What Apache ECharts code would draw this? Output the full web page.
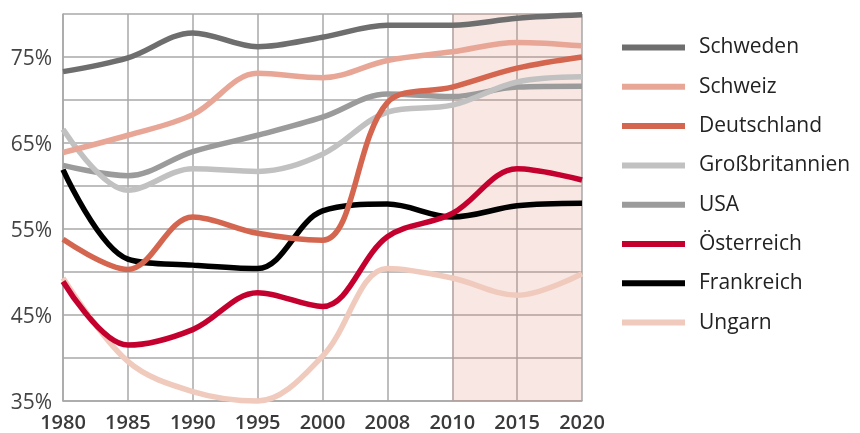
<!DOCTYPE html>
<html>
<head>
<meta charset="utf-8">
<script src="https://cdn.jsdelivr.net/npm/echarts@6/dist/echarts.min.js"></script>
<style>
html,body{margin:0;padding:0;background:#fff;}
#chart{width:860px;height:433px;}
</style>
</head>
<body>
<div id="chart"></div>
<script>
// Jahre
var years = ['1980','1985','1990','1995','2000','2008','2010','2015','2020'];

// Werte in %
var schweden       = [73.3, 74.9, 77.8, 76.2, 77.3, 78.7, 78.7, 79.5, 79.9];
var schweiz        = [63.9, 65.9, 68.3, 73.1, 72.6, 74.6, 75.6, 76.7, 76.3];
var deutschland    = [53.8, 50.3, 56.4, 54.5, 53.7, 69.7, 71.5, 73.7, 75.0];
var grossbritannien= [66.6, 59.5, 62.0, 61.7, 63.7, 68.6, 69.4, 72.1, 72.7];
var usa            = [62.4, 61.2, 64.0, 65.9, 68.0, 70.7, 70.4, 71.5, 71.6];
var oesterreich    = [48.9, 41.5, 43.3, 47.6, 46.0, 54.1, 56.8, 62.0, 60.7];
var frankreich     = [61.9, 51.5, 50.8, 50.4, 57.1, 57.9, 56.4, 57.7, 58.0];
var ungarn         = [49.3, 39.6, 36.1, 35.0, 40.2, 50.4, 49.3, 47.3, 49.8];

var names  = ['Schweden','Schweiz','Deutschland','Großbritannien','USA','Österreich','Frankreich','Ungarn'];
var values = [schweden, schweiz, deutschland, grossbritannien, usa, oesterreich, frankreich, ungarn];
var colors = ['#6e6e6e','#e8a696','#d4654f','#c1c1c1','#9b9b9b','#c4002f','#000000','#f0cabd'];

var chart = echarts.init(document.getElementById('chart'));

var series = [];
for (var i = 0; i < names.length; i++) {
	series.push({
		name: names[i],
		type: 'line',
		data: values[i],
		smooth: 0.35,
		symbol: 'none',
		clip: false,
		z: 10 - i,
		lineStyle: {width: 5.5, color: colors[i]},
		itemStyle: {color: colors[i]}
	});
}
// Prognose-Bereich 2010-2020
series[0].markArea = {
	silent: true,
	itemStyle: {color: 'rgba(215,120,95,0.18)'},
	data: [[{xAxis: '2010'}, {xAxis: '2020'}]]
};

option = {
	animation: false,
	grid: {left: 63, right: 278, top: 14, bottom: 32},
	legend: {
		orient: 'vertical',
		left: 617,
		top: 32,
		itemWidth: 63,
		itemHeight: 6,
		itemGap: 18.3,
		icon: 'rect',
		data: names,
		textStyle: {
			fontFamily: 'Open Sans',
			fontSize: 21,
			color: '#222',
			lineHeight: 20,
			padding: [0, 0, 0, 9]
		}
	},
	xAxis: {
		type: 'category',
		boundaryGap: false,
		data: years,
		axisLine: {lineStyle: {color: '#a8a8a8', width: 1.5}},
		axisTick: {show: false},
		splitLine: {show: true, lineStyle: {color: '#a8a8a8', width: 1.5}},
		axisLabel: {
			interval: 0,
			margin: 12,
			fontFamily: 'Open Sans',
			fontSize: 20,
			fontWeight: 600,
			color: '#3a3a3a'
		}
	},
	yAxis: {
		type: 'value',
		min: 35,
		max: 80,
		interval: 5,
		axisLine: {show: true, lineStyle: {color: '#a8a8a8', width: 1.5}},
		axisTick: {show: false},
		splitLine: {lineStyle: {color: '#a8a8a8', width: 1.5}},
		axisLabel: {
			margin: 11,
			fontFamily: 'Open Sans',
			fontSize: 21,
			color: '#444',
			verticalAlign: 'top',
			padding: [-8, 0, 0, 0],
			formatter: function (v) {
				return (v - 35) % 10 === 0 ? v + '%' : '';
			}
		}
	},
	series: series
};

chart.setOption(option);
</script>
</body>
</html>
